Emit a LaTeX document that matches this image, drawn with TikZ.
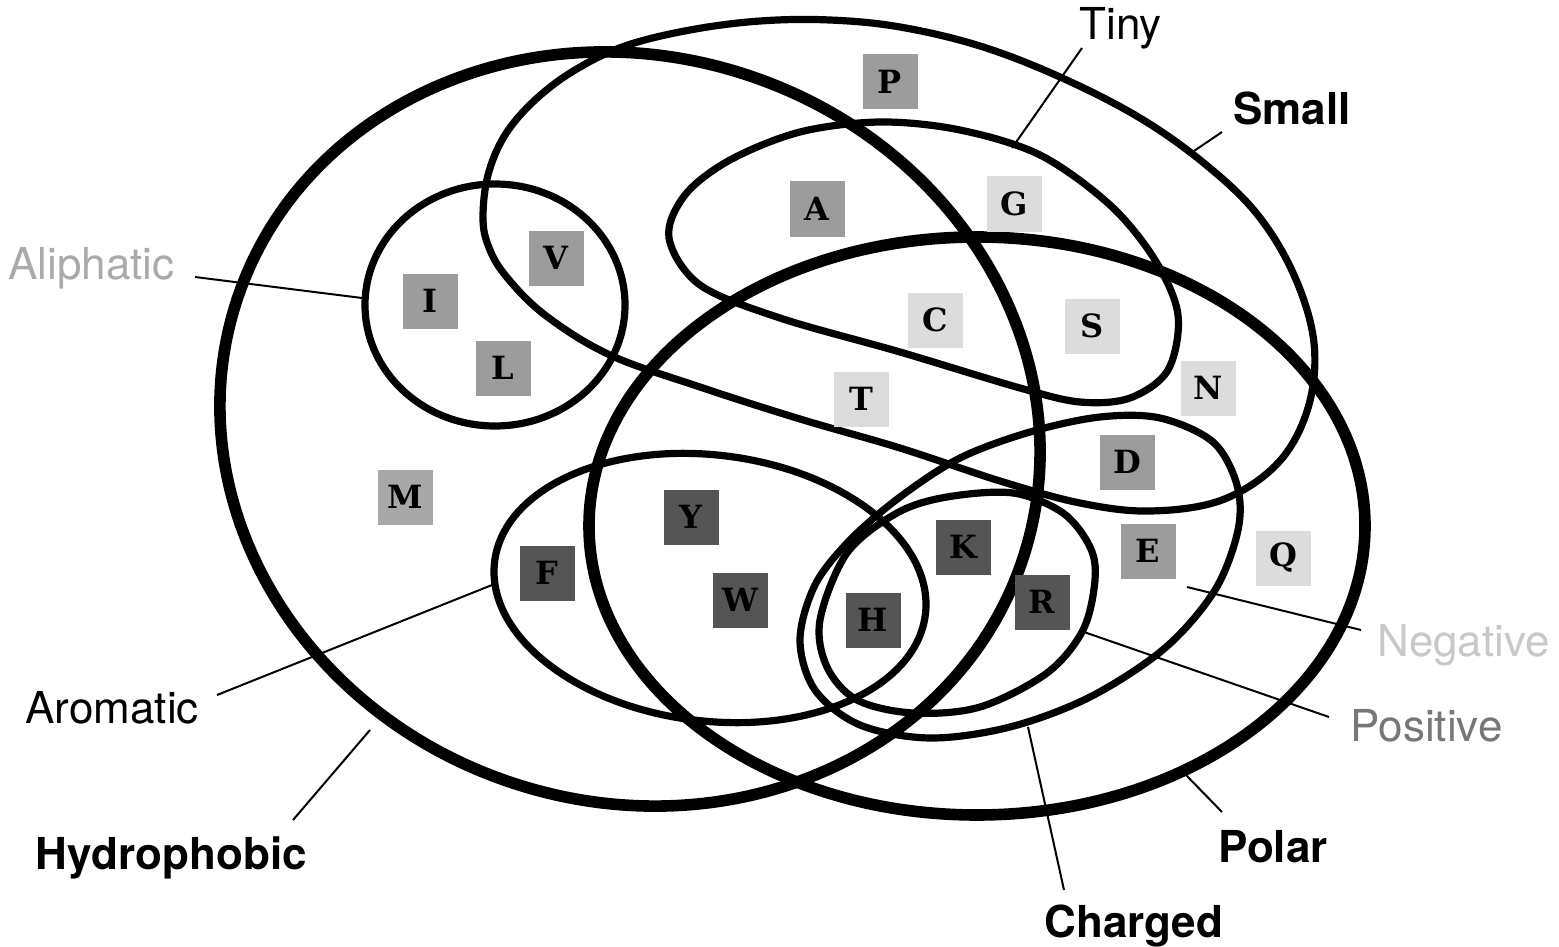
\documentclass[tikz,border=0pt]{standalone}
\usepackage{fontspec}
\setmainfont{TeX Gyre Heros}
\newfontfamily\aafont{DejaVu Serif}
\definecolor{midg}{HTML}{9C9C9C}
\definecolor{mg}{HTML}{A8A8A8}
\definecolor{lightg}{HTML}{DCDCDC}
\definecolor{darkg}{HTML}{555555}
\definecolor{alitxt}{HTML}{AAAAAA}
\definecolor{postxt}{HTML}{777777}
\definecolor{negtxt}{HTML}{C8C8C8}
\begin{document}
\begin{tikzpicture}[x=0.5pt,y=-0.5pt,
  bigset/.style={line width=5.8pt},
  ring/.style={line width=3.6pt},
  leader/.style={line width=1pt},
  aa/.style={minimum size=27.5pt, inner sep=0pt, font=\aafont\bfseries\fontsize{16}{16}\selectfont},
  lab/.style={inner sep=0pt, anchor=base west, font=\fontsize{22}{26}\selectfont},
  blab/.style={lab, font=\fontsize{22}{26}\selectfont\bfseries}]
\useasboundingbox (0,0) rectangle (1559,947);

% Hydrophobic
\draw[bigset, rotate around={-18:(630,429)}] (630,429) ellipse [x radius=413.7, y radius=372.9];
% Polar
\draw[bigset] (977,526) ellipse [x radius=388, y radius=289];
% Small
\draw[ring] plot[smooth cycle, tension=0.6] coordinates {
  (483,217) (488,175) (505,135) (535,100) (575,70) (625,46) (690,30) (760,21)
  (830,20) (900,27) (980,46) (1060,77) (1140,118) (1205,164) (1257,214)
  (1294,275) (1314,343) (1308,408) (1278,463) (1222,500) (1150,511) (1080,503)
  (1000,481) (900,448) (800,419) (700,387) (610,355) (545,315) (505,275) (488,245)};
% Tiny
\draw[ring] plot[smooth cycle, tension=0.55] coordinates {
  (669,238) (685,195) (730,160) (800,132) (880,122) (960,130) (1040,155) (1110,205)
  (1155,260) (1178,315) (1168,370) (1130,398) (1080,402) (1020,388) (900,352)
  (780,318) (700,285)};
% Aliphatic
\draw[ring] (495,305) ellipse [x radius=130, y radius=121];
% Aromatic
\draw[ring, rotate around={-7:(710,588)}] (710,588) ellipse [x radius=217, y radius=133];
% Charged
\draw[ring] plot[smooth cycle, tension=0.55] coordinates {
  (800,640) (815,585) (850,540) (900,497) (960,458) (1030,432) (1100,417) (1160,418)
  (1213,442) (1237,485) (1238,530) (1215,590) (1165,648) (1090,697) (1010,727)
  (930,738) (860,725) (815,690)};
% Positive
\draw[ring] plot[smooth cycle, tension=0.55] coordinates {
  (820,620) (847,553) (897,513) (947,497) (1013,493) (1063,513) (1090,547)
  (1095,580) (1083,630) (1047,673) (980,707) (913,713) (857,700) (827,667)};

% amino acid boxes
\node[aa, fill=midg]   (P) at (890,82)  {P};
\node[aa, fill=midg]   (A) at (817,209) {A};
\node[aa, fill=lightg] (G) at (1014,204) {G};
\node[aa, fill=midg]   (V) at (556,258) {V};
\node[aa, fill=midg]   (I) at (430,301) {I};
\node[aa, fill=midg]   (L) at (503,368) {L};
\node[aa, fill=lightg] (C) at (935,320) {C};
\node[aa, fill=lightg] (S) at (1092,326) {S};
\node[aa, fill=lightg] (N) at (1208,388) {N};
\node[aa, fill=lightg] (T) at (861,399) {T};
\node[aa, fill=midg]   (D) at (1127,462) {D};
\node[aa, fill=mg]     (M) at (405,497) {M};
\node[aa, fill=darkg]  (Y) at (691,517) {Y};
\node[aa, fill=darkg]  (K) at (963,547) {K};
\node[aa, fill=midg]   (E) at (1148,551) {E};
\node[aa, fill=lightg] (Q) at (1283,558) {Q};
\node[aa, fill=darkg]  (F) at (547,573) {F};
\node[aa, fill=darkg]  (W) at (740,600) {W};
\node[aa, fill=darkg]  (R) at (1042,602) {R};
\node[aa, fill=darkg]  (H) at (873,620) {H};

% labels
\node[lab]  (lTiny) at (1079,40) {Tiny};
\node[blab] (lSmall) at (1233,125) {Small};
\node[lab, text=alitxt] (lAli) at (8,279) {Aliphatic};
\node[lab]  (lAro) at (25,723) {Aromatic};
\node[blab] (lHyd) at (35,869) {Hydrophobic};
\node[blab] (lPol) at (1218,862) {Polar};
\node[blab] (lCha) at (1044,937) {Charged};
\node[lab, text=postxt] (lPos) at (1350,741) {Positive};
\node[lab, text=negtxt] (lNeg) at (1377,656) {Negative};

% leader line ends
\coordinate (cTiny) at (1012,148);  \coordinate (eTiny) at (1082,48);
\coordinate (cSmall) at (1191,153); \coordinate (eSmall) at (1222,132);
\coordinate (cAli) at (362,298);    \coordinate (eAli) at (195,277);
\coordinate (cAro) at (492,585);    \coordinate (eAro) at (217,695);
\coordinate (cHyd) at (370,730);    \coordinate (eHyd) at (293,820);
\coordinate (cPol) at (1184,773);   \coordinate (ePol) at (1222,812);
\coordinate (cCha) at (1028,727);   \coordinate (eCha) at (1064,890);
\coordinate (cPos) at (1084,632);   \coordinate (ePos) at (1329,717);
\coordinate (cNeg) at (1187,587);   \coordinate (eNeg) at (1361,630);

\draw[leader] (cTiny) -- (eTiny);
\draw[leader] (cSmall) -- (eSmall);
\draw[leader] (cAli) -- (eAli);
\draw[leader] (cAro) -- (eAro);
\draw[leader] (cHyd) -- (eHyd);
\draw[leader] (cPol) -- (ePol);
\draw[leader] (cCha) -- (eCha);
\draw[leader] (cPos) -- (ePos);
\draw[leader] (cNeg) -- (eNeg);
\end{tikzpicture}
\end{document}
